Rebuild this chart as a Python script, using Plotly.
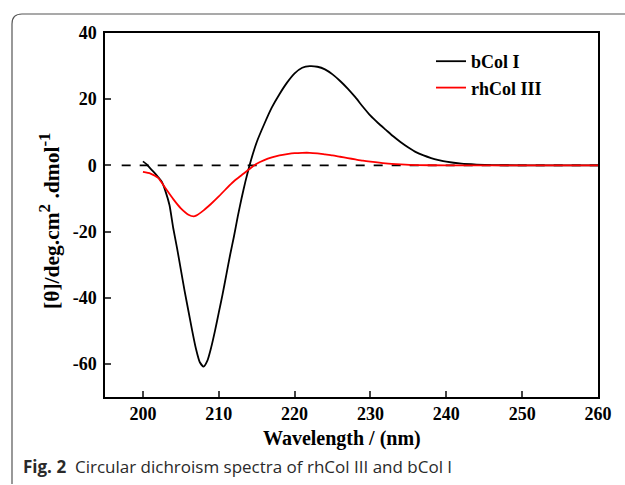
import plotly.graph_objects as go

# bCol I (black)
wl_b = [200, 200.5, 201, 201.5, 202, 202.5, 203, 203.5, 204, 204.5, 205, 205.5, 206, 206.5,
        207, 207.5, 208, 208.5, 209, 209.5, 210, 210.5, 211, 211.5, 212, 212.5, 213, 213.5,
        214, 214.5, 215, 216, 217, 218, 219, 220, 221, 222, 223, 224, 225, 226, 227, 228,
        229, 230, 231, 232, 233, 234, 235, 236, 237, 238, 239, 240, 242, 244, 246, 250, 255, 260]
cd_b = [1.2, 0.3, -1.0, -2.2, -3.5, -5.0, -8.0, -12.0, -19.0, -25.0, -31.5, -38.0, -44.0, -50.0,
        -55.5, -59.5, -60.8, -59.0, -55.0, -50.0, -44.5, -39.0, -33.0, -27.0, -21.5, -15.5, -10.0, -5.0,
        -0.5, 3.5, 7.0, 12.5, 17.5, 21.5, 25.0, 27.8, 29.5, 30.0, 29.8, 29.0, 27.5, 25.5, 23.2, 20.6,
        17.7, 15.0, 12.8, 10.8, 8.8, 7.0, 5.4, 4.0, 3.0, 2.2, 1.6, 1.1, 0.5, 0.25, 0.1, 0.0, 0.0, 0.0]

# rhCol III (red)
wl_r = [200, 201, 202, 203, 204, 205, 206, 206.7, 207, 208, 209, 210, 211, 212, 213, 214, 215,
        216, 217, 218, 219, 220, 221, 222, 223, 224, 225, 226, 227, 228, 229, 230, 232, 234,
        236, 240, 245, 250, 255, 260]
cd_r = [-2.0, -2.5, -3.8, -7.0, -10.2, -13.0, -14.9, -15.4, -15.2, -13.6, -11.6, -9.4, -7.0, -4.8,
        -3.0, -1.2, 0.5, 1.6, 2.4, 3.0, 3.4, 3.7, 3.8, 3.8, 3.6, 3.3, 3.0, 2.6, 2.2, 1.8, 1.4, 1.1,
        0.6, 0.3, 0.1, 0.0, 0.0, 0.0, 0.0, 0.0]

x_ticks = [200, 210, 220, 230, 240, 250, 260]
y_ticks = [-60, -40, -20, 0, 20, 40]
y_ticktext = ["-60", "-40", "-20", "0", "20", "40"]

W, H = 625, 485
L, R, T, B = 105, 27, 33, 88
pw, ph = W - L - R, H - T - B

def px(x):
    return (x - L) / pw

def py(y):
    return (H - B - y) / ph

fig = go.Figure()
fig.add_trace(go.Scatter(x=[197.2, 260], y=[0, 0], mode="lines",
                         line=dict(color="black", width=1.6, dash="dash"),
                         showlegend=False, hoverinfo="skip"))
fig.add_trace(go.Scatter(x=wl_b, y=cd_b, mode="lines", name="<b>bCol I</b>",
                         line=dict(color="black", width=1.8, shape="spline", smoothing=0.6)))
fig.add_trace(go.Scatter(x=wl_r, y=cd_r, mode="lines", name="<b>rhCol III</b>",
                         line=dict(color="#ff0000", width=1.8, shape="spline", smoothing=0.6)))

serif = "Liberation Serif, Times New Roman, serif"

# rounded border box
x0, y0, x1, y1, r = 12, 14, 660, 484, 10
path = (f"M {px(x0)},{py(y1)} L {px(x0)},{py(y0 + r)} "
        f"Q {px(x0)},{py(y0)} {px(x0 + r)},{py(y0)} L {px(x1)},{py(y0)}")
fig.add_shape(type="path", path=path, xref="paper", yref="paper",
              line=dict(color="#555555", width=1.2))

fig.add_annotation(x=px(21), y=py(466), xref="paper", yref="paper", xanchor="left",
                   yanchor="middle", showarrow=False,
                   text="<b>Fig. 2</b>  Circular dichroism spectra of rhCol III and bCol I",
                   font=dict(family="Open Sans, Noto Sans, sans-serif", size=17, color="#2a2a2a"))

# axis titles
fig.add_annotation(x=px(342), y=py(438), xref="paper", yref="paper", xanchor="center",
                   yanchor="middle", showarrow=False, text="<b>Wavelength / (nm)</b>",
                   font=dict(family=serif, size=20, color="black"))

ytitle = ("<b>[θ]/deg.cm<sup><span style='font-size:17px'>2</span></sup> .dmol"
          "<sup><span style='font-size:17px'>-1</span></sup></b>")
fig.add_annotation(x=px(50), y=py(221), xref="paper", yref="paper", xanchor="center",
                   yanchor="middle", showarrow=False, textangle=-90, text=ytitle,
                   font=dict(family=serif, size=21.5, color="black"))

fig.update_layout(
    width=W, height=H,
    margin=dict(l=L, r=R, t=T, b=B),
    plot_bgcolor="white", paper_bgcolor="white",
    font=dict(family=serif, color="black"),
    legend=dict(x=px(431), y=py(43), xanchor="left", yanchor="top",
                bgcolor="rgba(0,0,0,0)", font=dict(family=serif, size=18, color="black"),
                tracegroupgap=0, itemwidth=30),
    xaxis=dict(range=[195, 260], tickvals=x_ticks, ticks="inside", ticklen=6, tickwidth=1.5,
               showline=True, mirror=True, linecolor="black", linewidth=1.5, showgrid=False,
               zeroline=False,
               tickfont=dict(family=serif, size=18, color="black", weight="bold")),
    yaxis=dict(range=[-70, 40], tickvals=y_ticks, ticktext=y_ticktext, ticks="inside",
               ticklen=6, tickwidth=1.5,
               showline=True, mirror=True, linecolor="black", linewidth=1.5, showgrid=False,
               zeroline=False, ticklabelstandoff=3,
               tickfont=dict(family=serif, size=18, color="black", weight="bold")),
)

fig.write_html("out.html")
